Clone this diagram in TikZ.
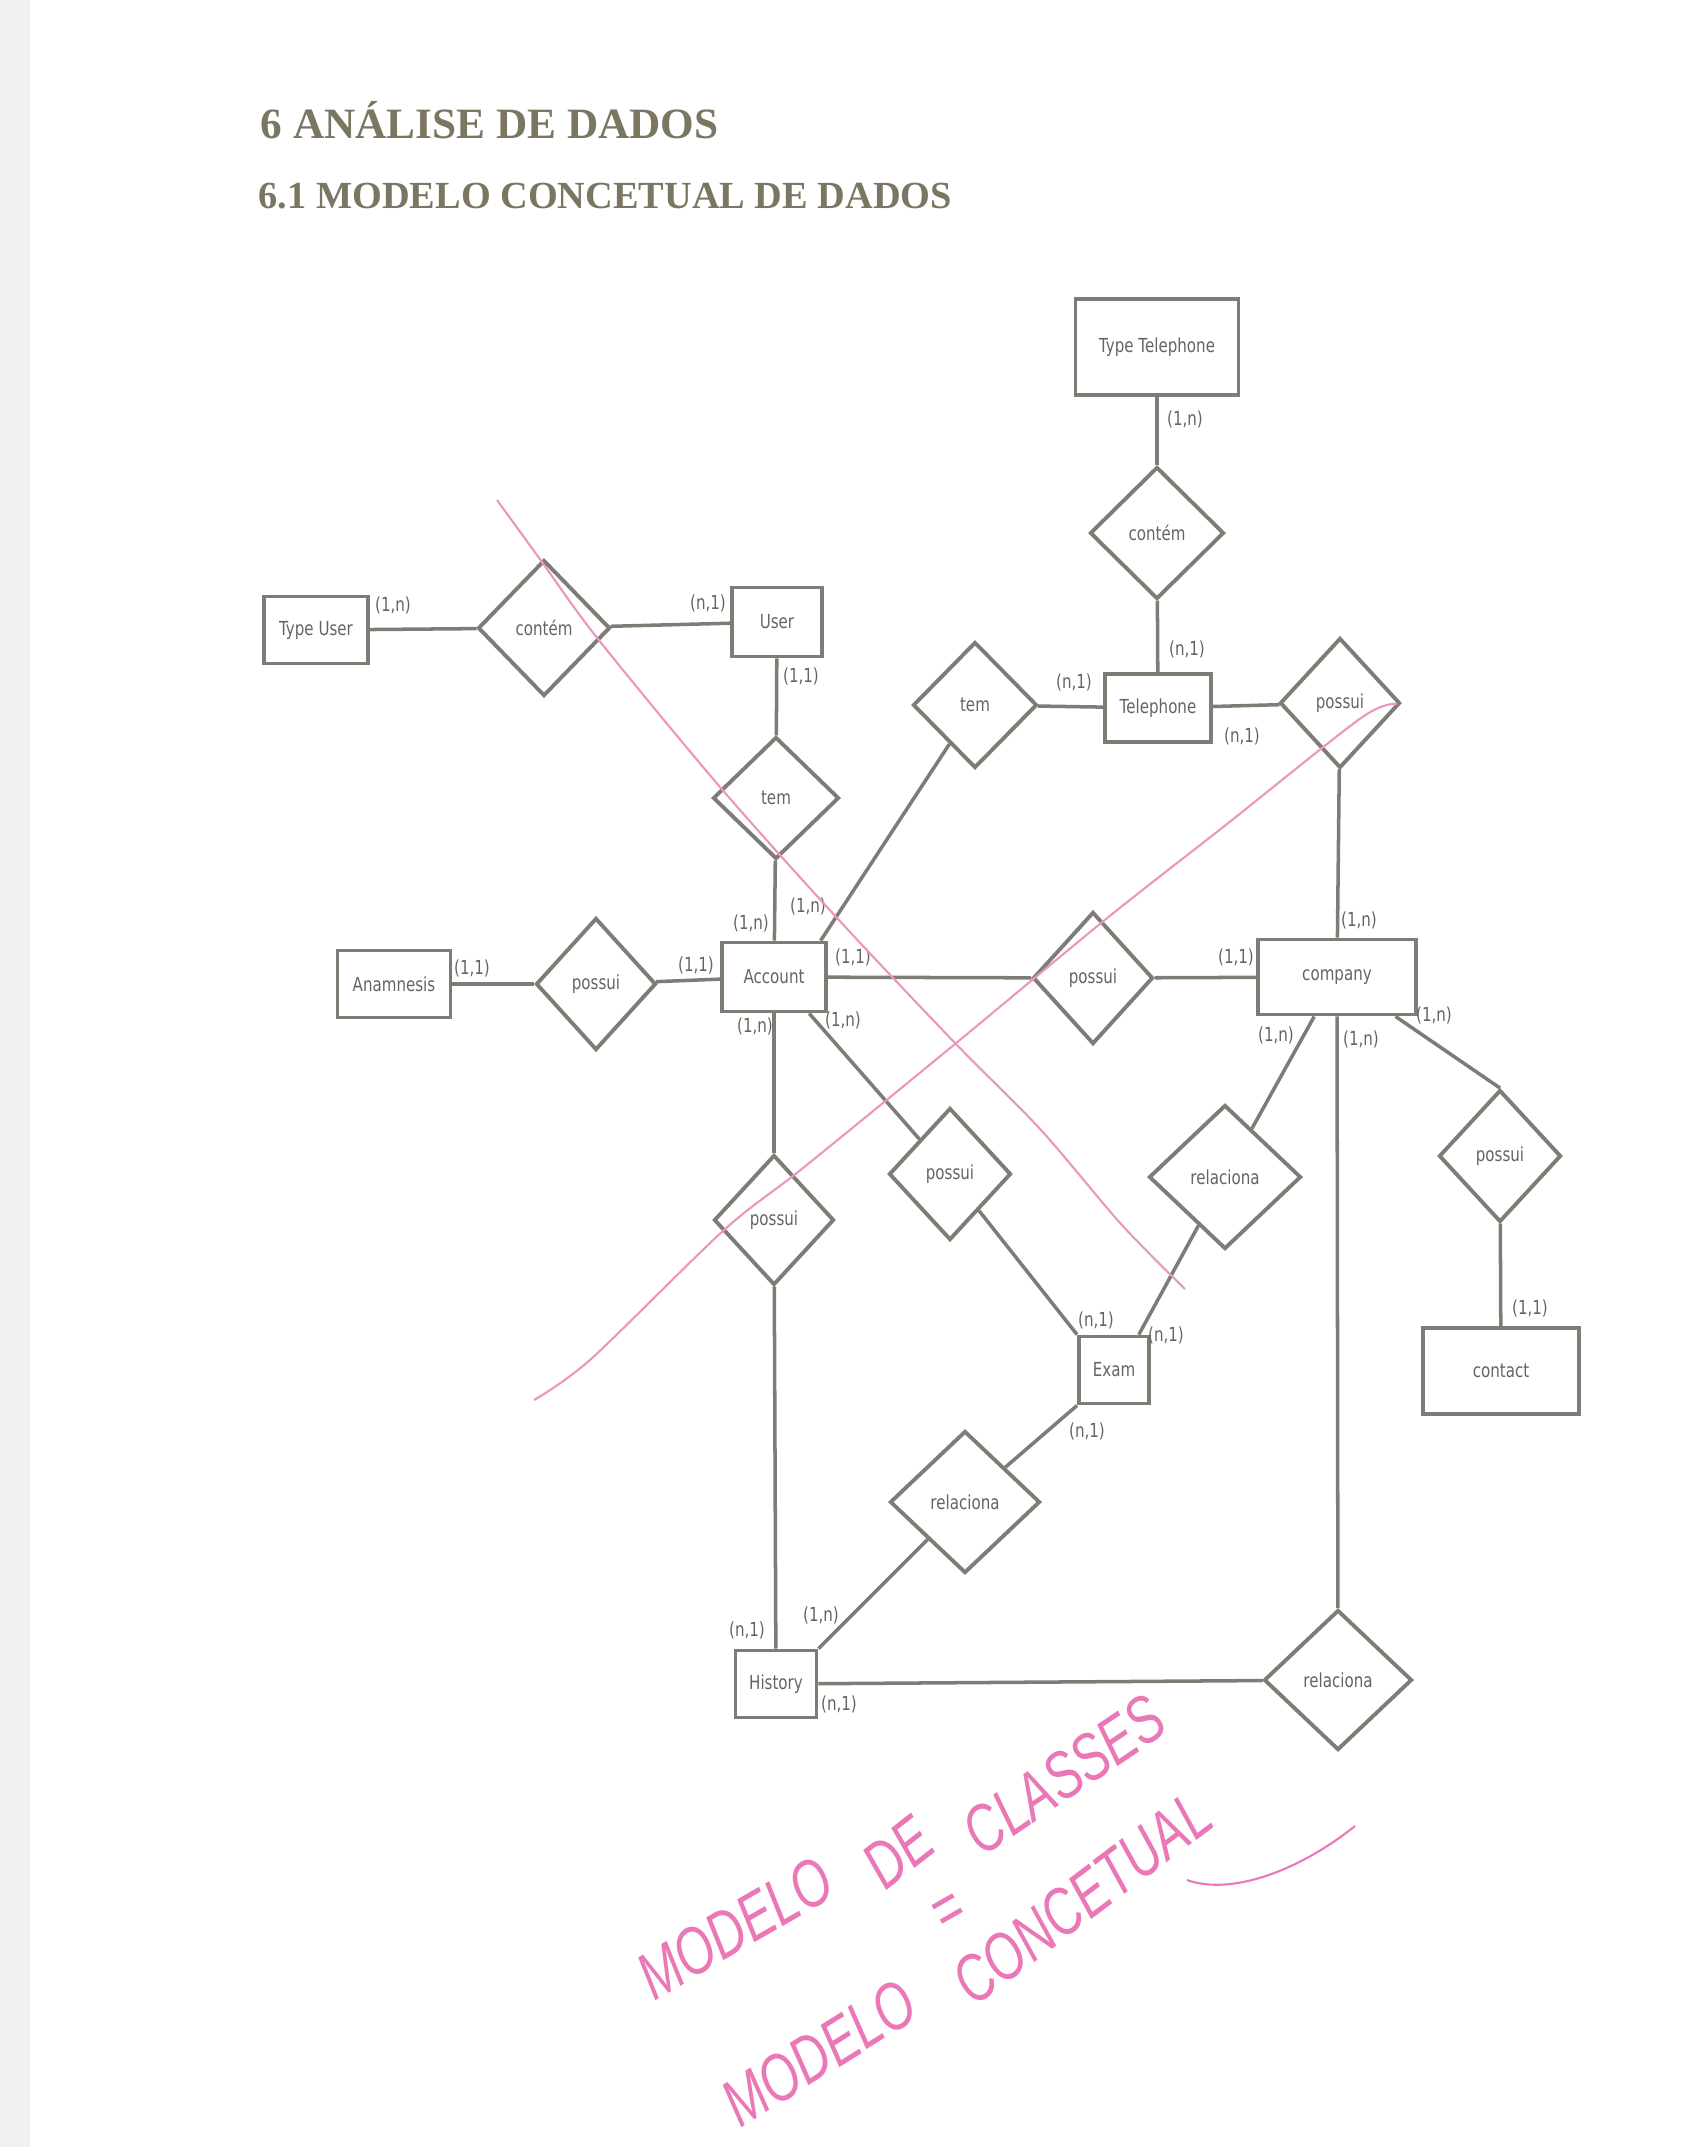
\documentclass[tikz,border=0pt]{standalone}
\usepackage{fontspec}
\usetikzlibrary{shapes.geometric}

\newfontfamily\erfont[FakeStretch=0.78]{DejaVu Sans}
\newfontfamily\titlefont{Liberation Serif}
\newfontfamily\handfont{Liberation Sans}

\definecolor{ergray}{RGB}{125,124,117}
\definecolor{ertext}{RGB}{100,100,96}
\definecolor{titlegray}{RGB}{122,118,98}
\definecolor{penline}{RGB}{236,150,190}
\definecolor{penink}{RGB}{234,120,182}

\tikzset{
  entity/.style={draw=ergray, line width=1.1pt, inner sep=0pt, text=ertext,
    font=\erfont\fontsize{5.5}{6}\selectfont},
  relship/.style={diamond, draw=ergray, line width=1.1pt, inner sep=0pt, text=ertext,
    font=\erfont\fontsize{5.5}{6}\selectfont},
  card/.style={inner sep=0pt, text=ertext, font=\erfont\fontsize{5.5}{6}\selectfont},
  hand/.style={inner sep=0pt, text=penink, rotate=#1, yscale=1.35,
    font=\handfont\itshape\fontsize{14}{15}\selectfont},
}

\begin{document}
\begin{tikzpicture}[x=0.01cm, y=-0.01cm]

        \useasboundingbox (0,0) rectangle (1700,2147);
        \fill[black!6] (0,0) rectangle (30,2147);

        % headings
        \node[anchor=base west, inner sep=0pt, text=titlegray, font=\titlefont\bfseries\fontsize{12.3}{14}\selectfont]
          (h1) at (260,138) {6 ANÁLISE DE DADOS};
        \node[anchor=base west, inner sep=0pt, text=titlegray, font=\titlefont\bfseries\fontsize{10.9}{13}\selectfont]
          (h2) at (258,208) {6.1 MODELO CONCETUAL DE DADOS};

        % entities
        \begin{scope}[every node/.style={entity}]
          \node[minimum width=1.63cm, minimum height=0.96cm] (ttel)    at (1157,347)  {Type Telephone};
          \node[minimum width=1.06cm, minimum height=0.68cm] (tel)     at (1158,708)  {Telephone};
          \node[minimum width=1.04cm, minimum height=0.67cm] (tuser)   at (316,630)   {Type User};
          \node[minimum width=0.90cm, minimum height=0.69cm] (user)    at (777,622)   {User};
          \node[minimum width=1.13cm, minimum height=0.67cm] (anam)    at (394,984)   {Anamnesis};
          \node[minimum width=1.04cm, minimum height=0.69cm] (account) at (774,977)   {Account};
          \node[minimum width=1.58cm, minimum height=0.75cm] (company) at (1337,977)  {company};
          \node[minimum width=1.56cm, minimum height=0.86cm] (contact) at (1501,1371) {contact};
          \node[minimum width=0.70cm, minimum height=0.67cm] (exam)    at (1114,1370) {Exam};
          \node[minimum width=0.81cm, minimum height=0.67cm] (history) at (776,1684)  {History};
        \end{scope}

        % relationships
        \begin{scope}[every node/.style={relship}]
          \node[minimum width=1.34cm, minimum height=1.32cm] (ctel)     at (1157,533)  {contém};
          \node[minimum width=1.24cm, minimum height=1.26cm] (temtel)   at (975,705)   {tem};
          \node[minimum width=1.20cm, minimum height=1.30cm] (possuitel) at (1340,703) {possui};
          \node[minimum width=1.32cm, minimum height=1.36cm] (cuser)    at (544,628)   {contém};
          \node[minimum width=1.26cm, minimum height=1.22cm] (temuser)  at (776,798)   {tem};
          \node[minimum width=1.20cm, minimum height=1.32cm] (possuianam) at (596,984) {possui};
          \node[minimum width=1.20cm, minimum height=1.32cm] (possuicomp) at (1093,978) {possui};
          \node[minimum width=1.22cm, minimum height=1.32cm] (possuicont) at (1500,1156) {possui};
          \node[minimum width=1.20cm, minimum height=1.30cm] (possuihist) at (774,1220) {possui};
          \node[minimum width=1.22cm, minimum height=1.32cm] (possuiexam) at (950,1174) {possui};
          \node[minimum width=1.52cm, minimum height=1.44cm] (relexam)  at (1225,1177) {relaciona};
          \node[minimum width=1.50cm, minimum height=1.42cm] (relhist)  at (965,1502)  {relaciona};
          \node[minimum width=1.48cm, minimum height=1.40cm] (relcomp)  at (1338,1680) {relaciona};
        \end{scope}

        % connectors
        \begin{scope}[every edge/.style={draw=ergray, line width=1pt}]
          \path (ttel)  edge (ctel);
          \path (ctel)  edge (tel);
          \path (tel)   edge (temtel);
          \path (tel)   edge (possuitel);
          \path (possuitel) edge (company);
          \path (tuser) edge (cuser);
          \path (cuser) edge (user);
          \path (user)  edge (temuser);
          \path (temuser) edge (account);
          \path (account.38) edge (temtel);
          \path (anam)  edge (possuianam);
          \path (possuianam) edge (account);
          \path (account) edge (possuicomp);
          \path (possuicomp) edge (company);
          \path (account) edge (possuihist);
          \path (possuihist) edge (history);
          \path (account.-46) edge (possuiexam);
          \path (possuiexam) edge (exam.north west);
          \path (company.240) edge (relexam);
          \path (relexam) edge (exam.55);
          \path (exam.south west) edge (relhist);
          \path (relhist) edge (history.north east);
          \path (history) edge (relcomp);
          \path (company) edge (relcomp);
          \path (company.-34) edge (possuicont.north);
          \path (possuicont) edge (contact);
        \end{scope}

        % cardinalities
        \begin{scope}[every node/.style={card}]
          \node (k1)  at (1185,419)  {(1,n)};
          \node (k2)  at (1187,649)  {(n,1)};
          \node (k3)  at (1074,682)  {(n,1)};
          \node (k4)  at (1242,736)  {(n,1)};
          \node (k5)  at (393,605)   {(1,n)};
          \node (k6)  at (708,603)   {(n,1)};
          \node (k7)  at (801,676)   {(1,1)};
          \node (k8)  at (472,968)   {(1,1)};
          \node (k9)  at (696,965)   {(1,1)};
          \node (k10) at (751,923)   {(1,n)};
          \node (k11) at (808,906)   {(1,n)};
          \node (k12) at (853,957)   {(1,1)};
          \node (k13) at (755,1026)  {(1,n)};
          \node (k14) at (843,1020)  {(1,n)};
          \node (k15) at (1236,957)  {(1,1)};
          \node (k16) at (1359,920)  {(1,n)};
          \node (k17) at (1276,1035) {(1,n)};
          \node (k18) at (1361,1039) {(1,n)};
          \node (k19) at (1434,1015) {(1,n)};
          \node (k20) at (1530,1308) {(1,1)};
          \node (k21) at (1096,1320) {(n,1)};
          \node (k22) at (1166,1335) {(n,1)};
          \node (k23) at (1087,1431) {(n,1)};
          \node (k24) at (821,1615)  {(1,n)};
          \node (k25) at (747,1630)  {(n,1)};
          \node (k26) at (839,1704)  {(n,1)};
        \end{scope}

        % pen marks on the scan
        \draw[penline, line width=0.6pt] plot[smooth] coordinates
          {(497,500) (542,562) (598,639) (720,787) (838,919) (955,1043) (1041,1130) (1121,1224) (1185,1289)};
        \draw[penline, line width=0.6pt] plot[smooth] coordinates
          {(534,1400) (591,1359) (724,1230) (803,1168) (955,1044) (1106,919) (1227,824) (1361,718) (1397,704)};

        \node[hand=30] (w1) at (735,1928) {MODELO};
        \node[hand=38] (w2) at (898,1852) {DE};
        \node[hand=34] (w3) at (1064,1775) {CLASSES};
        \node[hand=30] (w4) at (950,1914) {=};
        \node[hand=32] (w5) at (819,2053) {MODELO};
        \node[hand=37] (w6) at (1082,1898) {CONCETUAL};
        \draw[penink, line width=0.6pt] (1187,1880) .. controls (1232,1896) and (1300,1870) .. (1355,1826);

      \end{tikzpicture}
\end{document}
